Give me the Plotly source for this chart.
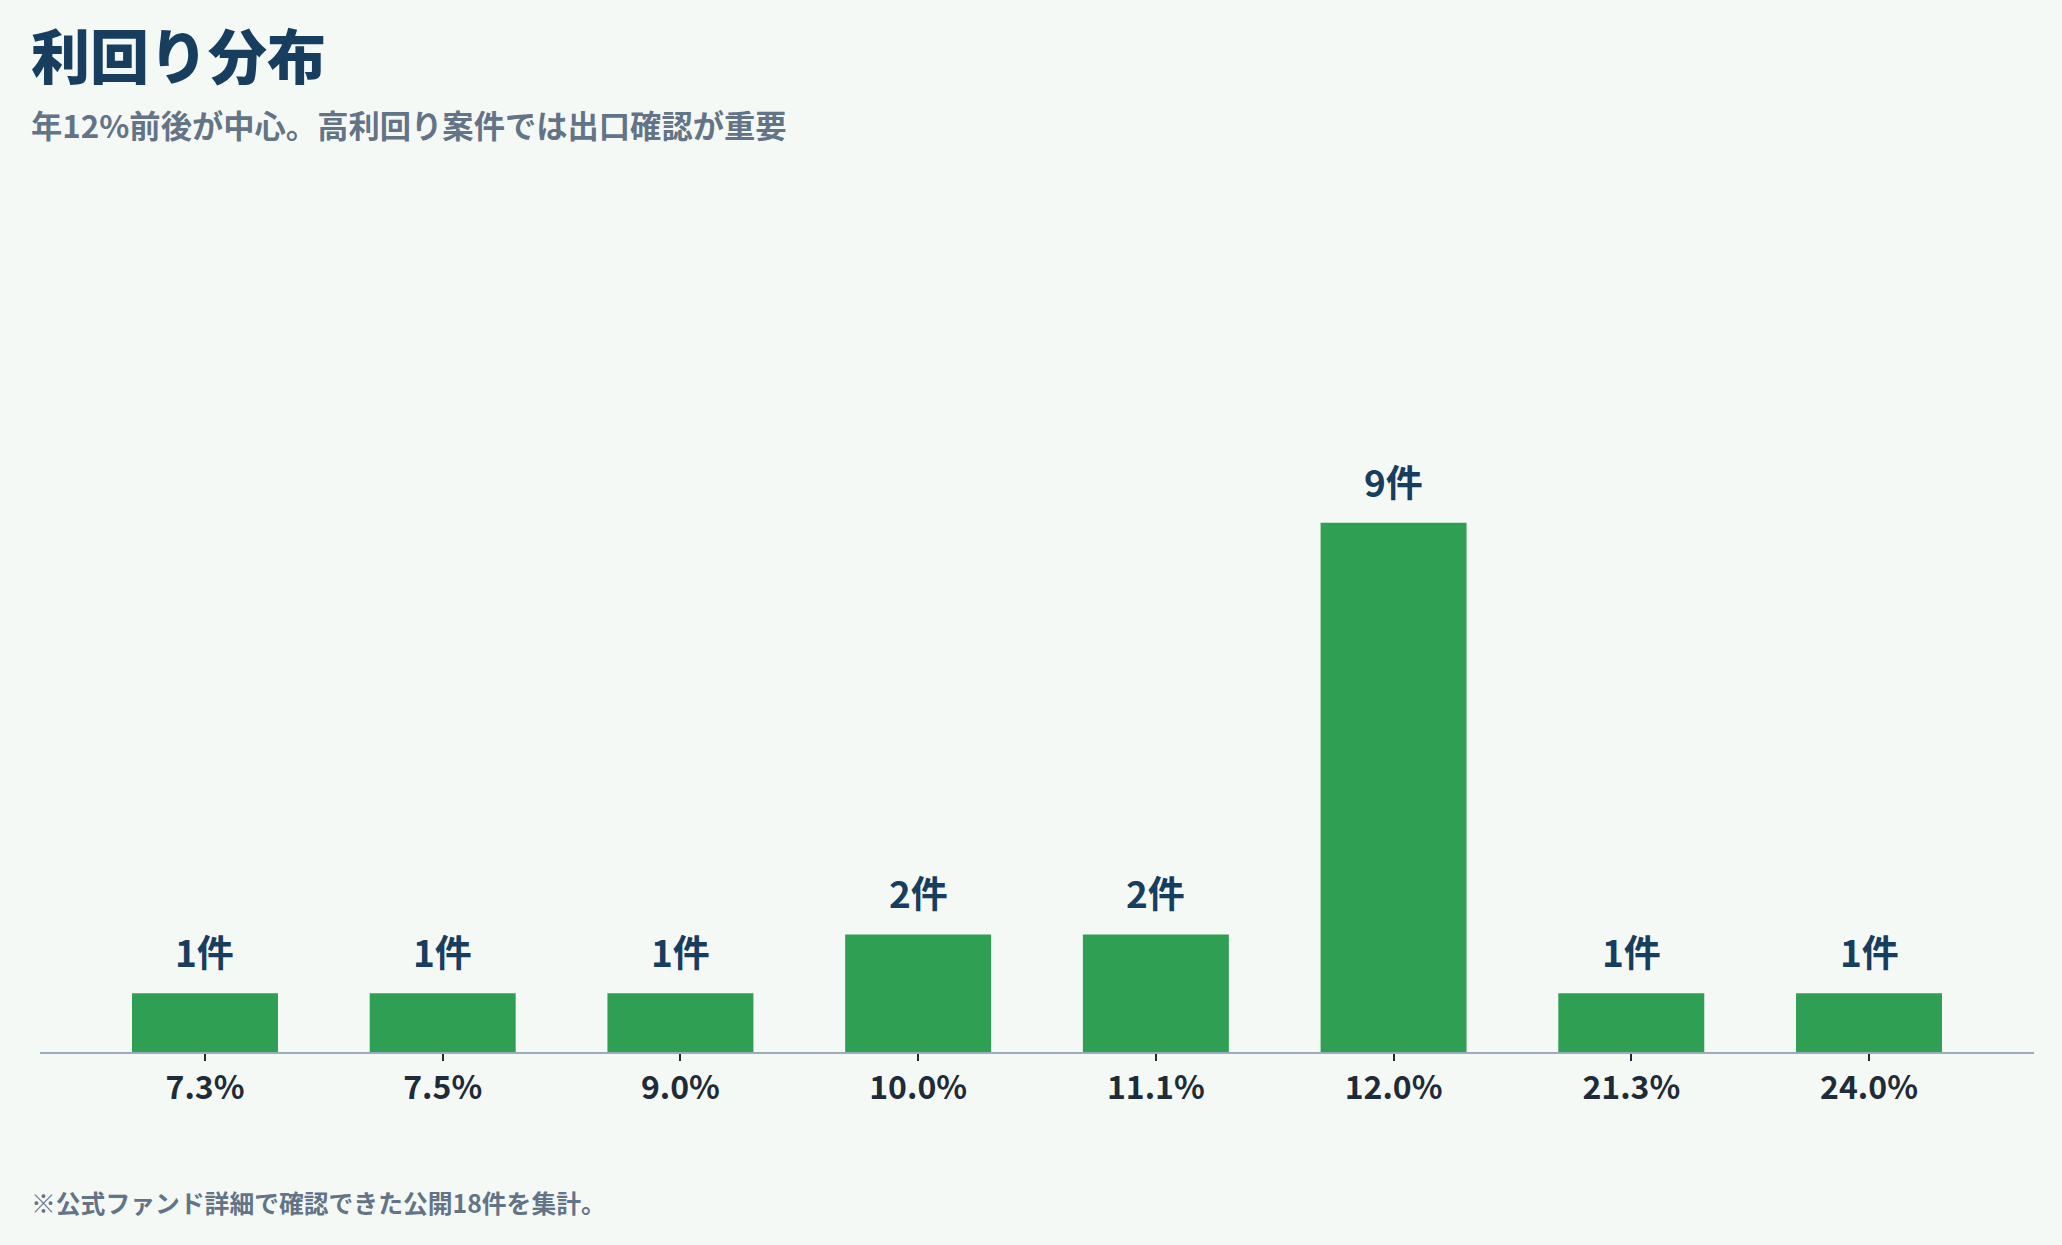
import plotly.graph_objects as go

categories = ["7.3%", "7.5%", "9.0%", "10.0%", "11.1%", "12.0%", "21.3%", "24.0%"]
counts = [1, 1, 1, 2, 2, 9, 1, 1]
labels = [f"{c}件" for c in counts]

title_text = "利回り分布"
subtitle_text = "年12%前後が中心。高利回り案件では出口確認が重要"
footnote_text = "※公式ファンド詳細で確認できた公開18件を集計。"

FONT = "Noto Sans CJK JP"
BG = "#f5f9f6"
NAVY = "#173d5f"
GRAY = "#637487"
GREEN = "#2f9f53"

W, H = 2062, 1245
ML, MR, MT, MB = 40, 28, 150, 193
plot_h = H - MT - MB
plot_w = W - ML - MR

def py(ypx):
    return (H - MB - ypx) / plot_h

def px(xpx):
    return (xpx - ML) / plot_w

fig = go.Figure()
fig.add_trace(go.Bar(
    x=categories, y=counts,
    marker=dict(color=GREEN, line=dict(width=0)),
    hoverinfo="skip",
))

annotations = []
for c, v, t in zip(categories, counts, labels):
    annotations.append(dict(
        x=c, y=v, xref="x", yref="y", text=t, showarrow=False,
        yanchor="bottom", yshift=13,
        font=dict(family=FONT, size=37, color=NAVY, weight=700),
    ))

annotations += [
    dict(x=px(29), y=py(54), xref="paper", yref="paper", text=title_text,
         showarrow=False, xanchor="left", yanchor="middle",
         font=dict(family=FONT, size=59, color=NAVY, weight=900)),
    dict(x=px(29), y=py(125), xref="paper", yref="paper", text=subtitle_text,
         showarrow=False, xanchor="left", yanchor="middle",
         font=dict(family=FONT, size=31.3, color=GRAY, weight=700)),
    dict(x=px(29), y=py(1202), xref="paper", yref="paper", text=footnote_text,
         showarrow=False, xanchor="left", yanchor="middle",
         font=dict(family=FONT, size=24.8, color=GRAY, weight=700)),
]

fig.update_layout(
    width=W, height=H,
    margin=dict(l=ML, r=MR, t=MT, b=MB, pad=0),
    paper_bgcolor=BG, plot_bgcolor=BG,
    bargap=0.386,
    showlegend=False,
    annotations=annotations,
    xaxis=dict(
        type="category", range=[-0.694, 7.694],
        showline=True, linecolor="#9aadbd", linewidth=2,
        ticks="outside", ticklen=7, tickwidth=2, tickcolor="#1e2b38",
        tickfont=dict(family=FONT, size=32, color="#1e2b38", weight=700),
        showgrid=False, zeroline=False, fixedrange=True,
    ),
    yaxis=dict(
        range=[0, plot_h / 58.8], visible=False, showgrid=False,
        zeroline=False, fixedrange=True,
    ),
)

fig.write_html("out.html", config={"displayModeBar": False})
